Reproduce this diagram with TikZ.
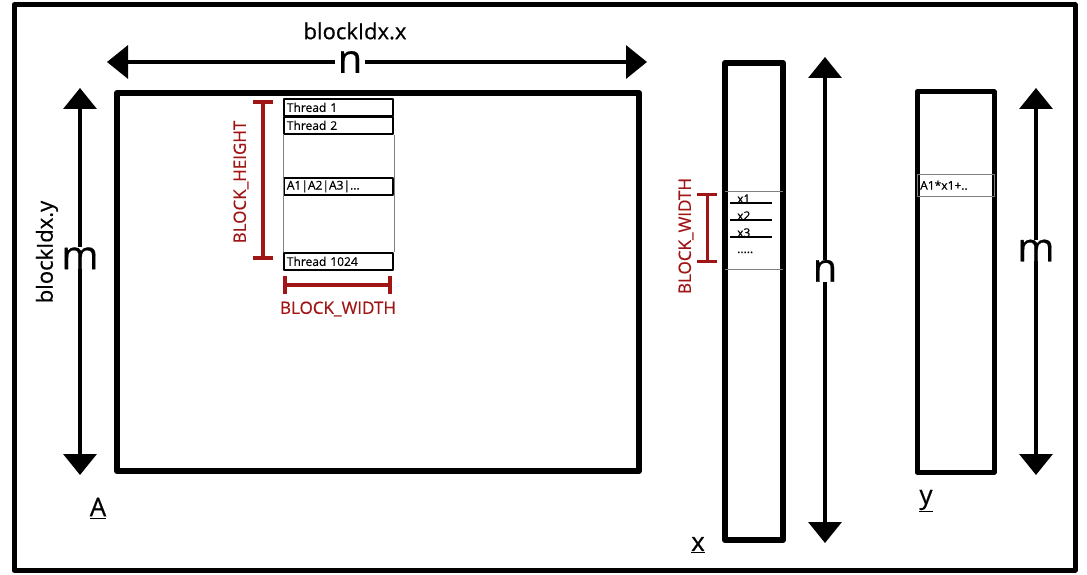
\documentclass[tikz,border=0pt]{standalone}
\usepackage{fontspec}
\setmainfont[FakeBold=0.5]{Open Sans}
\usetikzlibrary{arrows.meta}
\definecolor{blockred}{RGB}{160,22,22}
\tikzset{
  dimarrow/.style={line width=3.5pt, {Triangle[length=21pt,width=33pt]}-{Triangle[length=21pt,width=33pt]}},
  redbar/.style={draw=blockred, line width=4pt, {Bar[width=20pt]}-{Bar[width=20pt]}},
  dimlabel/.style={fill=white, inner xsep=3pt, inner ysep=0pt, font=\fontsize{40}{40}\selectfont},
  idxlabel/.style={font=\fontsize{22}{22}\selectfont},
  redlabel/.style={text=blockred, font=\fontsize{17}{17}\selectfont},
  namelabel/.style={font=\fontsize{26}{26}\selectfont},
  cell/.style={draw, line width=1.8pt, anchor=north west, text width=103pt, align=left,
    inner xsep=3pt, inner ysep=0pt, minimum height=17pt, font=\fontsize{12}{12}\selectfont},
  vecitem/.style={anchor=base west, inner sep=0pt, font=\fontsize{12}{12}\selectfont}
}
\begin{document}
\begin{tikzpicture}[x=1pt, y=-1pt, line join=round]
    \useasboundingbox (0,0) rectangle (1087,575);

    % outer frame
    \draw[line width=5pt] (14,5) rectangle (1075,570);

    % matrix A
    \draw[line width=6pt] (117,93) rectangle (639,471);
    \node[namelabel] (nameA) at (98,508) {\underline{A}};

    % n arrow (columns of A)
    \coordinate (nAL) at (107,62);
    \coordinate (nAR) at (647,62);
    \draw[dimarrow] (nAL) -- node[dimlabel, pos=0.45] (nA) {n} (nAR);
    \node[idxlabel] (bx) at (355,31) {blockIdx.x};

    % m arrow (rows of A)
    \coordinate (mAT) at (80,88);
    \coordinate (mAB) at (80,475);
    \draw[dimarrow] (mAT) -- node[dimlabel, pos=0.44] (mA) {m} (mAB);
    \node[idxlabel, rotate=90] (by) at (47,252) {blockIdx.y};

    % one block of threads
    \node[cell] (t1) at (283,98) {Thread 1};
    \node[cell] (t2) at (283,116) {Thread 2};
    \node[cell] (ta) at (283,177) {A1|A2|A3|...};
    \node[cell] (tn) at (283,252) {Thread 1024};
    \draw[gray, thin] (t2.south west) -- (tn.north west);
    \draw[gray, thin] (t2.south east) -- (tn.north east);

    % block height / width
    \coordinate (bhT) at (263,100);
    \coordinate (bhB) at (263,260);
    \draw[redbar] (bhT) -- (bhB);
    \node[redlabel, rotate=90] (bh) at (241,182) {BLOCK\_HEIGHT};
    \coordinate (bwL) at (283,285);
    \coordinate (bwR) at (392,285);
    \draw[redbar, {Bar[width=18pt]}-{Bar[width=18pt]}] (bwL) -- (bwR);
    \node[redlabel] (bw) at (338,309) {BLOCK\_WIDTH};

    % vector x
    \draw[line width=6pt] (725,63) rectangle (783,540);
    \draw[gray, thin] (725,191) -- (783,191);
    \draw[gray, thin] (725,269) -- (783,269);
    \foreach \i/\yy in {1/203, 2/220, 3/237} {
        \node[vecitem] (x\i) at (737,\yy) {x\i};
        \draw[line width=1.3pt] (730,\yy) -- (772,\yy);
    }
    \node[vecitem] (xdots) at (737,253) {.....};
    \coordinate (bxT) at (707,193);
    \coordinate (bxB) at (707,263);
    \draw[redbar, line width=3pt] (bxT) -- (bxB);
    \node[redlabel, rotate=90] (bxw) at (686,236) {BLOCK\_WIDTH};
    \node[namelabel] (nameX) at (698,545) {\underline{x}};

    % n arrow (length of x)
    \coordinate (nxT) at (825,57);
    \coordinate (nxB) at (825,543);
    \draw[dimarrow] (nxT) -- node[dimlabel, pos=0.44] (nx) {n} (nxB);

    % vector y
    \draw[line width=5pt] (917,92) rectangle (994,472);
    \node[draw=gray, thin, anchor=north west, minimum width=77pt, minimum height=22pt,
      text width=71pt, align=left, inner xsep=3pt, inner ysep=0pt,
      font=\fontsize{12}{12}\selectfont] (ycell) at (917,174) {A1*x1+..};
    \node[namelabel] (nameY) at (926,501) {\underline{y}};

    % m arrow (length of y)
    \coordinate (myT) at (1036,88);
    \coordinate (myB) at (1036,475);
    \draw[dimarrow] (myT) -- node[dimlabel, pos=0.42] (my) {m} (myB);
\end{tikzpicture}
\end{document}
